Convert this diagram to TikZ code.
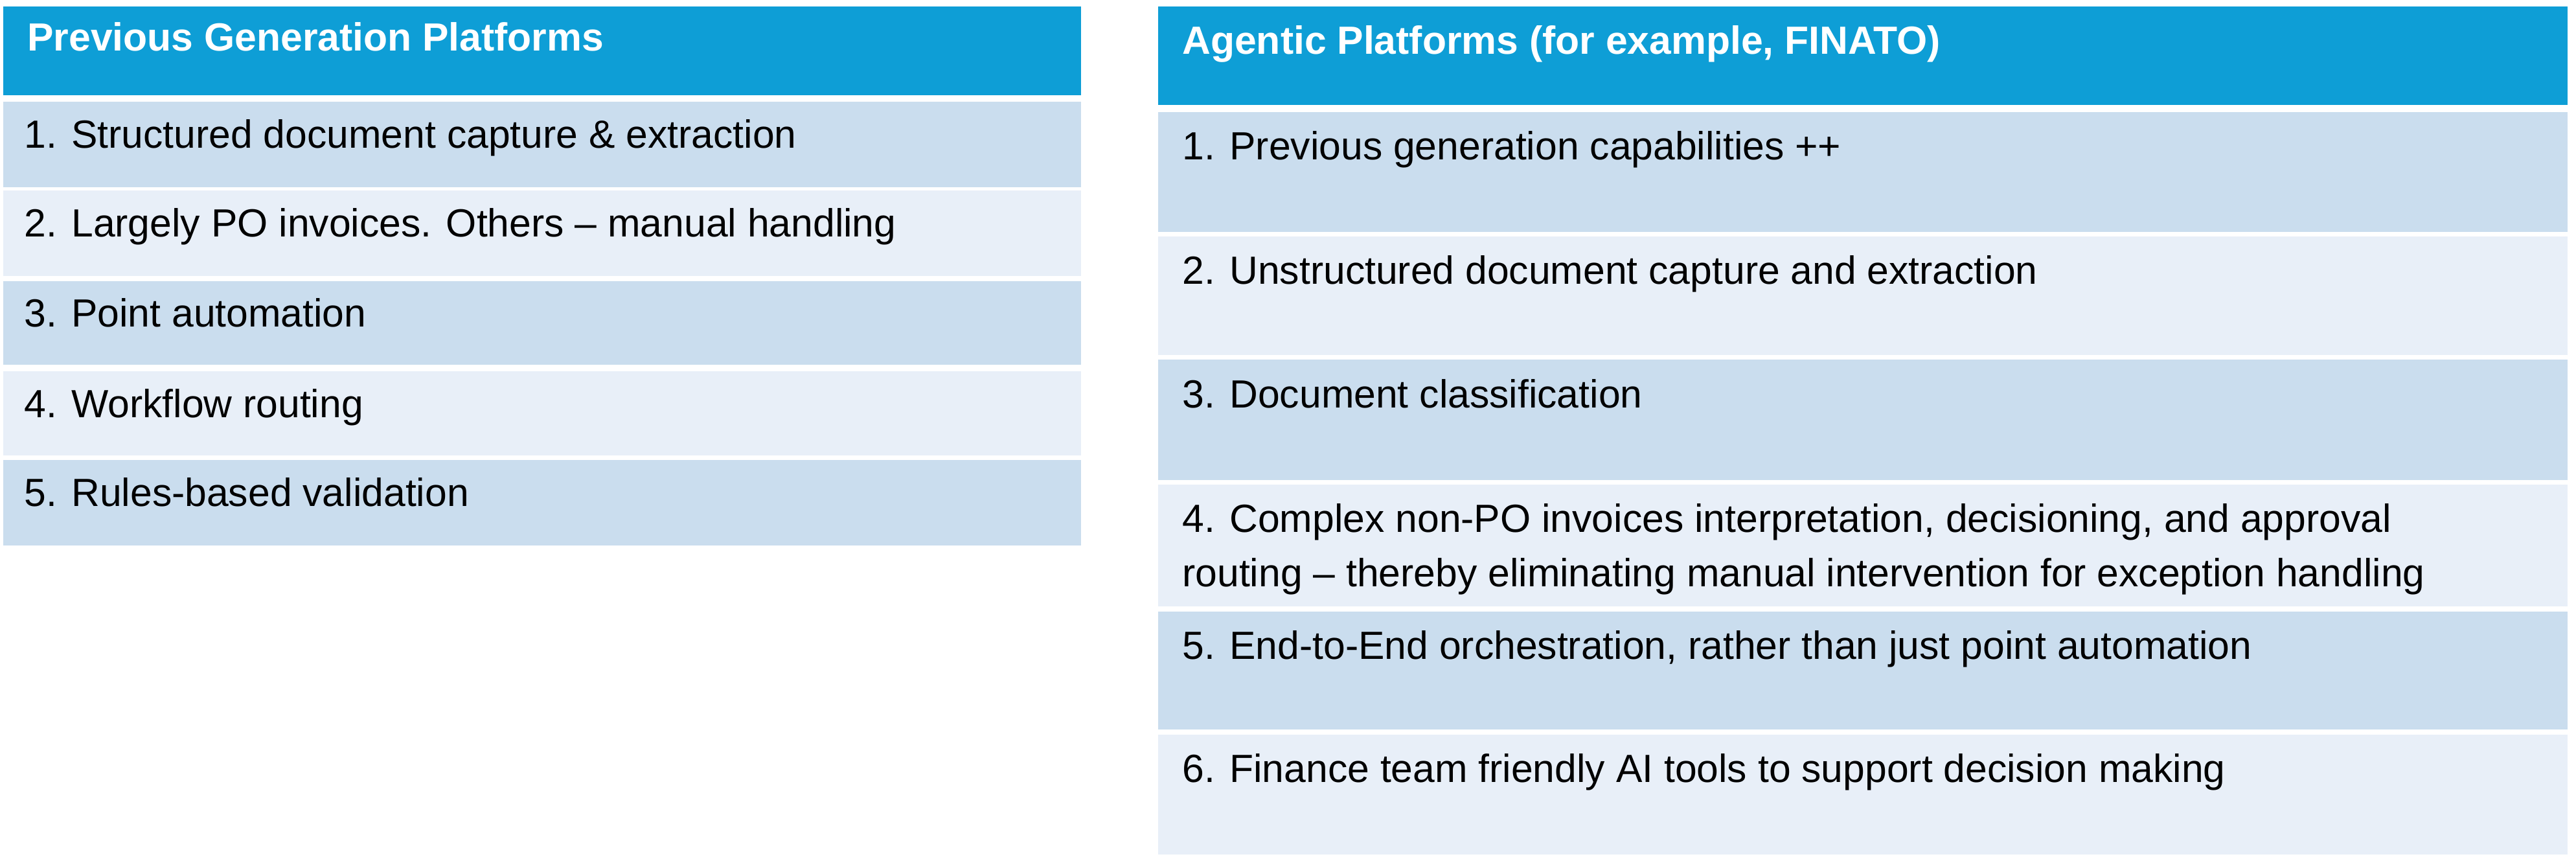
\documentclass[tikz,border=0pt]{standalone}
\usepackage{fontspec}
\setmainfont{Liberation Sans}
\usetikzlibrary{positioning}
\definecolor{headblue}{HTML}{0E9ED6}
\definecolor{rowdark}{HTML}{CADDEE}
\definecolor{rowlight}{HTML}{E8EFF8}

\begin{document}
\begin{tikzpicture}[
        x = 0.01cm, y = -0.01cm, % reference pixels
        cell/.style = {anchor = north west, inner sep = 0pt, outer sep = 0pt},
        celltext/.style = {anchor = north west, inner sep = 0pt, align = left,
            font = \fontsize{6.8}{9.4}\selectfont},
        headtext/.style = {celltext, text = white, font = \fontsize{6.8}{9.4}\selectfont\bfseries}
    ]

    \useasboundingbox (0,0) rectangle (1568,523.6);

    % left table
    \fill[headblue] (2,4) rectangle (658,58);
    \node[headtext] (lhead) at (16,13) {Previous Generation Platforms};
    \foreach \n/\top/\bot/\col/\txt in {
        1/62/114/rowdark/{1. Structured document capture \& extraction},
        2/116/168/rowlight/{2. Largely PO invoices. Others -- manual handling},
        3/171/222/rowdark/{3. Point automation},
        4/226/277/rowlight/{4. Workflow routing},
        5/280/332/rowdark/{5. Rules-based validation}} {
        \fill[\col] (2,\top) rectangle (658,\bot);
        \node[celltext] (l\n) at (14,\top+10) {\txt};
    }

    % right table
    \fill[headblue] (705,4) rectangle (1563,64);
    \node[headtext] (rhead) at (719,15) {Agentic Platforms (for example, FINATO)};
    \foreach \n/\top/\bot/\col/\txt in {
        1/68/141/rowdark/{1. Previous generation capabilities ++},
        2/144/216/rowlight/{2. Unstructured document capture and extraction},
        3/219/292/rowdark/{3. Document classification},
        4/295/369/rowlight/{4. Complex non-PO invoices interpretation, decisioning, and approval\\routing -- thereby eliminating manual intervention for exception handling},
        5/372/444/rowdark/{5. End-to-End orchestration, rather than just point automation},
        6/447/520/rowlight/{6. Finance team friendly AI tools to support decision making}} {
        \fill[\col] (705,\top) rectangle (1563,\bot);
        \node[celltext] (r\n) at (719,\top+11) {\txt};
    }

\end{tikzpicture}
\end{document}
